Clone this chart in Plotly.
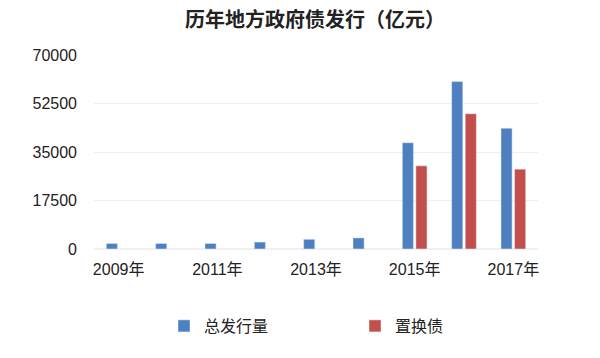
import plotly.graph_objects as go

categories = ["2009年", "2010年", "2011年", "2012年", "2013年", "2014年", "2015年", "2016年", "2017年"]
total_issue = [2000, 2000, 2000, 2500, 3500, 4000, 38350, 60400, 43550]
replacement = [None, None, None, None, None, None, 30000, 48800, 28800]
tick_vals = [0, 17500, 35000, 52500, 70000]
shown_x_ticks = ["2009年", "2011年", "2013年", "2015年", "2017年"]

FONT = "Liberation Sans, Helvetica, Arial, Noto Sans CJK SC, sans-serif"

fig = go.Figure()
fig.add_trace(go.Bar(x=categories, y=total_issue, name="总发行量", marker_color="#4e80c1"))
fig.add_trace(go.Bar(x=categories, y=replacement, name="置换债", marker_color="#c24f4c"))

fig.update_layout(
    width=600, height=358,
    paper_bgcolor="white", plot_bgcolor="white",
    margin=dict(l=94, r=62, t=55, b=109, autoexpand=False),
    barmode="group", bargap=0.45, bargroupgap=0.18,
    font=dict(family=FONT, size=15, color="#222222"),
    title=dict(text="历年地方政府债发行（亿元）", x=315 / 600, xanchor="center", xref="container",
               y=1 - 20 / 358, yanchor="middle", yref="container",
               font=dict(family="Noto Sans CJK SC, sans-serif", size=20, color="#222222", weight="bold")),
    xaxis=dict(type="category", categoryorder="array", categoryarray=categories,
               tickmode="array", tickvals=shown_x_ticks, ticktext=shown_x_ticks,
               showgrid=False, showline=False, ticks="", tickfont=dict(size=16),
               ticklabelstandoff=9),
    yaxis=dict(range=[0, 70000], tickvals=tick_vals, ticktext=[str(v) for v in tick_vals],
               showgrid=True, gridcolor="#f0f0f0", gridwidth=1, zeroline=True,
               zerolinecolor="#f0f0f0", showline=False, ticks="", tickfont=dict(size=16),
               ticklabelstandoff=16),
    legend=dict(orientation="h", x=164 / 600, xanchor="left", xref="container",
                y=1 - 326 / 358, yanchor="middle", yref="container",
                entrywidth=146, entrywidthmode="pixels",
                font=dict(family="Noto Sans CJK SC, sans-serif", size=16, color="#222222"),
                itemclick=False),
    showlegend=True,
)

fig.write_html("out.html", config={"displayModeBar": False},
               post_script="document.body.style.margin='0';")
